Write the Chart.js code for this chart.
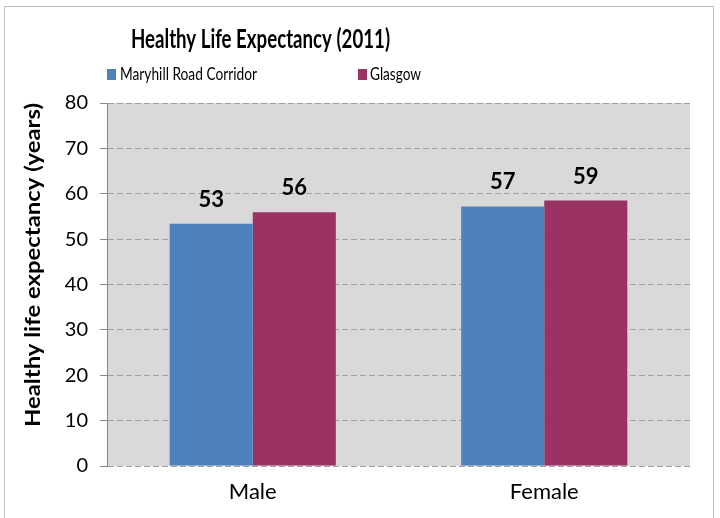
<!DOCTYPE html>
<html><head><meta charset="utf-8">
<script src="https://cdn.jsdelivr.net/npm/chart.js@4/dist/chart.umd.min.js"></script>
<style>html,body{margin:0;padding:0;background:#fff}#wrap{width:720px;height:518px;position:relative}</style>
</head><body><div id="wrap"><canvas id="c" width="720" height="518"></canvas></div>
<script>
const categories = ['Male', 'Female'];
const seriesNames = ['Maryhill Road Corridor', 'Glasgow'];
const maryhill = [53.4, 57.2];
const glasgow = [55.9, 58.5];
const yMin = 0, yMax = 80, yStep = 10;
const chartTitle = 'Healthy Life Expectancy (2011)';
const yAxisTitle = 'Healthy life expectancy (years)';
const seriesColors = ['#4F81BD', '#9A3263'];

const FAMILY = 'Lato, "Liberation Sans", Arial, sans-serif';

// draw text at a given font size, fitted horizontally to a target width
function drawFitted(ctx, text, weight, size, x, y, width) {
  ctx.save();
  ctx.font = weight + ' ' + size + 'px ' + FAMILY;
  const w = ctx.measureText(text).width;
  const sx = width / w;
  ctx.textAlign = 'left';
  ctx.textBaseline = 'alphabetic';
  ctx.translate(x, y);
  ctx.scale(sx, 1);
  ctx.fillText(text, 0, 0);
  ctx.restore();
}

const decor = {
  id: 'decor',
  beforeDraw(chart) {
    const {ctx, chartArea: a} = chart;
    ctx.save();
    ctx.fillStyle = '#fff';
    ctx.fillRect(0, 0, chart.width, chart.height);
    ctx.strokeStyle = '#BFBFBF';
    ctx.lineWidth = 1;
    ctx.strokeRect(4.5, 6.5, 709, 530);
    ctx.fillStyle = '#D9D9D9';
    ctx.fillRect(a.left, a.top, a.right - a.left, a.bottom - a.top);
    ctx.restore();
  },
  afterDraw(chart) {
    const ctx = chart.ctx;
    ctx.save();
    ctx.fillStyle = '#000';
    // title
    drawFitted(ctx, chartTitle, 'bold', 26, 131, 48, 259);
    // legend
    const leg = [{sq: 107, tx: 120, w: 137}, {sq: 358, tx: 370, w: 51}];
    chart.data.datasets.forEach((ds, i) => {
      ctx.fillStyle = ds.backgroundColor;
      ctx.fillRect(leg[i].sq, 69, 9, 11);
      ctx.fillStyle = '#000';
      drawFitted(ctx, ds.label, 'normal', 18, leg[i].tx, 80, leg[i].w);
    });
    // y axis title
    ctx.save();
    ctx.translate(40, 427);
    ctx.rotate(-Math.PI / 2);
    drawFitted(ctx, yAxisTitle, 'bold', 21, 0, 0, 324);
    ctx.restore();
    ctx.restore();
    // data labels
    ctx.save();
    ctx.font = 'bold 22px ' + FAMILY;
    ctx.fillStyle = '#000';
    ctx.textAlign = 'center';
    ctx.textBaseline = 'alphabetic';
    chart.data.datasets.forEach((ds, i) => {
      chart.getDatasetMeta(i).data.forEach((bar, j) => {
        ctx.fillText(String(Math.round(ds.data[j])), bar.x, bar.y - 17);
      });
    });
    ctx.restore();
  }
};

new Chart(document.getElementById('c'), {
  type: 'bar',
  data: {
    labels: categories,
    datasets: [
      {label: seriesNames[0], data: maryhill, backgroundColor: seriesColors[0]},
      {label: seriesNames[1], data: glasgow, backgroundColor: seriesColors[1]}
    ]
  },
  options: {
    responsive: false,
    animation: false,
    devicePixelRatio: 1,
    categoryPercentage: 0.57,
    barPercentage: 1,
    layout: {padding: {top: 103, right: 30, left: 0, bottom: 0}},
    plugins: {legend: {display: false}, title: {display: false}, tooltip: {enabled: false}},
    scales: {
      x: {
        grid: {display: false, drawTicks: false},
        border: {display: false},
        ticks: {color: '#000', font: {family: FAMILY, size: 22}, padding: 13},
        afterFit(scale) { scale.height = 52; }
      },
      y: {
        min: yMin, max: yMax,
        ticks: {stepSize: yStep, color: '#000', font: {family: FAMILY, size: 20}, padding: 12},
        grid: {color: '#A0A0A0', lineWidth: 1, tickLength: 7, tickColor: '#868686', tickBorderDash: []},
        border: {display: true, color: '#868686', width: 1, dash: [6, 3]},
        afterFit(scale) { scale.width = 107; }
      }
    }
  },
  plugins: [decor]
});
</script>
</body></html>
